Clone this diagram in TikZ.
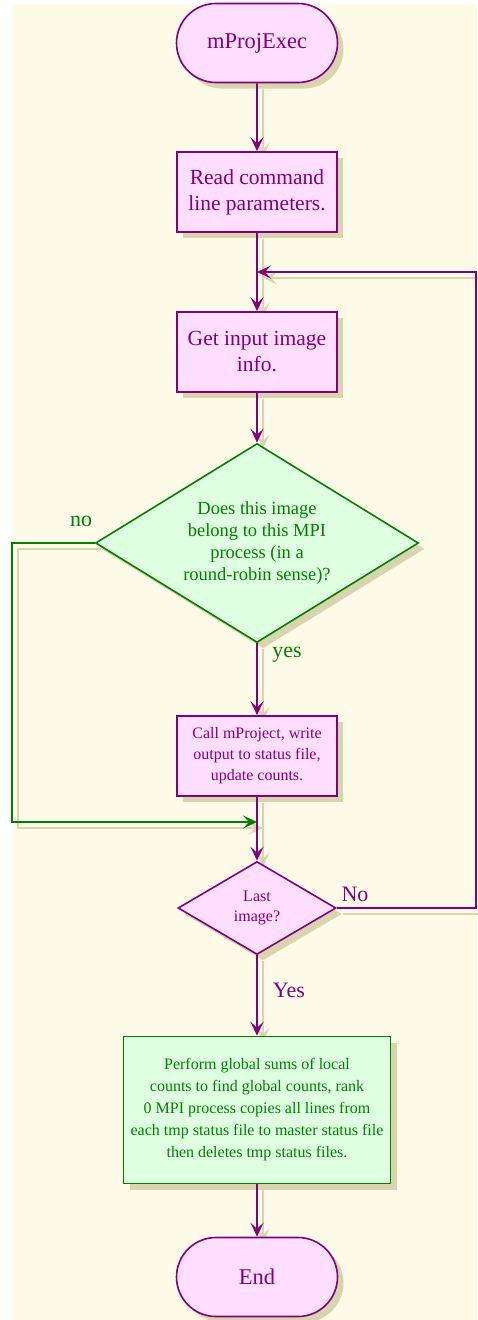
\documentclass[tikz,border=0pt]{standalone}
\usepackage{fontspec}
\setmainfont{Liberation Serif}
\usetikzlibrary{shapes.geometric,shapes.misc,shadows,arrows.meta}

\definecolor{creamc}{RGB}{253,250,232}
\definecolor{shadec}{RGB}{216,212,174}
\definecolor{pinkc}{RGB}{255,222,255}
\definecolor{purplec}{RGB}{128,0,128}
\definecolor{mintc}{RGB}{222,255,224}
\definecolor{greenc}{RGB}{0,128,0}

\pgfdeclarelayer{paper}
\pgfdeclarelayer{shade}
\pgfsetlayers{paper,shade,main}

\tikzset{
  base/.style={draw, line width=1.6pt, align=center, inner sep=0pt,
    drop shadow={shadow xshift=6pt, shadow yshift=-6pt, fill=shadec, opacity=1}},
  pinkbox/.style={base, rectangle, fill=pinkc, draw=purplec, text=purplec,
    minimum width=160pt, minimum height=80pt},
  greenbox/.style={base, rectangle, fill=mintc, draw=greenc, text=greenc},
  terminal/.style={base, rounded rectangle, fill=pinkc, draw=purplec, text=purplec,
    minimum width=161pt, minimum height=79pt, font=\fontsize{22.5}{26}\selectfont},
  decision/.style={base, diamond, aspect=1.6},
  flowtip/.style={-{Stealth[length=14pt,width=13pt,inset=6pt]}},
  arrowline/.style={draw=purplec, line width=1.6pt, flowtip},
  noline/.style={arrowline, draw=greenc},
  lineshade/.style={draw=shadec, line width=1.6pt, flowtip,
    transform canvas={shift={(6pt,-6pt)}}},
  lbl/.style={font=\fontsize{22}{26}\selectfont}
}

% connectors, drawn once as shadow and once for real
\newcommand\flowlinks[2]{%
  \draw[#1] (start) -- (read);
  \draw[#1] (read) -- (getinfo);
  \draw[#1] (getinfo) -- (belong);
  \draw[#1] (belong) -- (call);
  \draw[#1] (call) -- (last);
  \draw[#1] (last) -- (perform);
  \draw[#1] (perform) -- (stop);
  \draw[#1] (last.east) -- ++(139,0) |- (loopin);
  \draw[#2] (belong.west) -- ++(-83,0) |- (join);
}

\begin{document}
\begin{tikzpicture}[x=1pt,y=-1pt]

  \useasboundingbox (0,0) rectangle (477,1320);
  \begin{pgfonlayer}{paper}
    \fill[creamc] (12,4) rectangle (477,1320);
  \end{pgfonlayer}

  \node[terminal] (start) at (257,43) {mProjExec};
  \node[pinkbox, font=\fontsize{21.5}{26}\selectfont] (read) at (257,192)
    {Read command\\line parameters.};
  \node[pinkbox, font=\fontsize{21.5}{26}\selectfont] (getinfo) at (257,352)
    {Get input image\\info.};
  \node[decision, fill=mintc, draw=greenc, text=greenc,
        minimum width=323pt, minimum height=199pt,
        font=\fontsize{18.5}{22}\selectfont] (belong) at (257,543)
    {Does this image\\belong to this MPI\\process (in a\\round-robin sense)?};
  \node[pinkbox, font=\fontsize{16}{21}\selectfont] (call) at (257,756)
    {Call mProject, write\\output to status file,\\update counts.};
  \node[decision, aspect=1.7, fill=pinkc, draw=purplec, text=purplec,
        minimum width=158pt, minimum height=93pt,
        font=\fontsize{16}{20}\selectfont] (last) at (257,908)
    {Last\\image?};
  \node[greenbox, minimum width=267pt, minimum height=147pt,
        font=\fontsize{16}{22}\selectfont] (perform) at (257,1110)
    {Perform global sums of local\\counts to find global counts, rank\\0 MPI process copies all lines from\\each tmp status file to master status file\\then deletes tmp status files.};
  \node[terminal] (stop) at (257,1277) {End};

  \coordinate (loopin) at (257,272);
  \coordinate (join) at (257,822);

  \begin{pgfonlayer}{shade}
    \flowlinks{lineshade}{lineshade}
  \end{pgfonlayer}
  \flowlinks{arrowline}{noline}

  \node[lbl, text=greenc] (nolbl) at (81,521) {no};
  \node[lbl, text=greenc] (yeslbl) at (287,655) {yes};
  \node[lbl, text=purplec] (bigno) at (355,894) {No};
  \node[lbl, text=purplec] (bigyes) at (289,990) {Yes};

\end{tikzpicture}
\end{document}
